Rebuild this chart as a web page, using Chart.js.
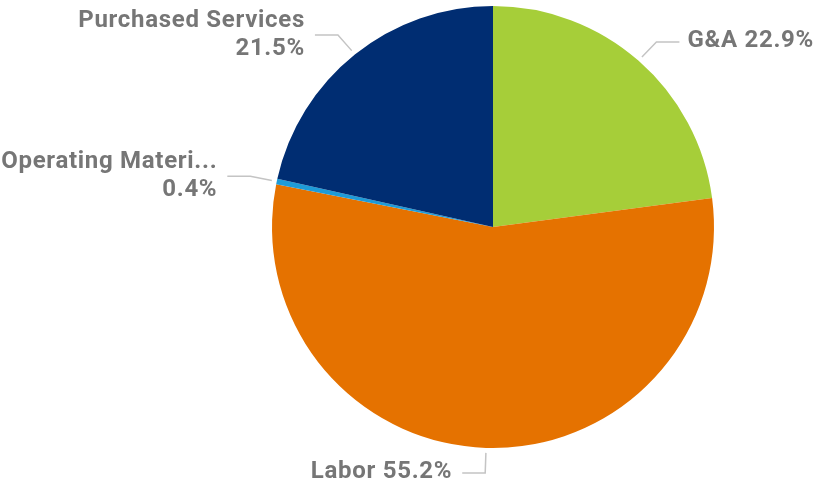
<!DOCTYPE html>
<html>
<head>
<meta charset="utf-8">
<script src="https://cdn.jsdelivr.net/npm/chart.js@4.4.1/dist/chart.umd.min.js"></script>
<style>
  html, body { margin: 0; padding: 0; background: #fff; }
  #wrap { width: 818px; height: 489px; position: relative; }
</style>
</head>
<body>
<div id="wrap"><canvas id="costChart"></canvas></div>
<script>
const categories = ["G&A", "Labor", "Operating Materi...", "Purchased Services"];
const shares = [22.9, 55.2, 0.4, 21.5];
const sliceColors = ["#a6ce39", "#e57200", "#1e9bd7", "#002d72"];
// two-line labels put the percent on its own line
const splitLabel = [false, false, true, true];

const labelFont = "700 24px Roboto";
const labelColor = "#767676";
const leaderColor = "#c4c4c4";

const leaderLabels = {
    id: "leaderLabels",
    afterDatasetsDraw(chart) {
        const ctx = chart.ctx;
        const arcs = chart.getDatasetMeta(0).data;
        ctx.save();
        ctx.font = labelFont;
        ctx.letterSpacing = "0.7px";
        ctx.textBaseline = "middle";
        arcs.forEach((arc, i) => {
            const { x, y, startAngle, endAngle, outerRadius } = arc.getProps(["x", "y", "startAngle", "endAngle", "outerRadius"], true);
            const mid = (startAngle + endAngle) / 2;
            const cos = Math.cos(mid), sin = Math.sin(mid);
            const sx = x + cos * (outerRadius + 5), sy = y + sin * (outerRadius + 5);
            const ex = x + cos * (outerRadius + 27), ey = y + sin * (outerRadius + 25);
            const right = cos >= 0;
            const hx = ex + (right ? 23 : -23);

            ctx.strokeStyle = leaderColor;
            ctx.lineWidth = 1.5;
            ctx.beginPath();
            ctx.moveTo(sx, sy);
            ctx.lineTo(ex, ey);
            ctx.lineTo(hx, ey);
            ctx.stroke();

            ctx.fillStyle = labelColor;
            ctx.textAlign = right ? "left" : "right";
            const tx = hx + (right ? 8 : -10);
            const pct = shares[i].toFixed(1) + "%";
            if (splitLabel[i]) {
                ctx.fillText(categories[i], tx, ey - 14);
                ctx.fillText(pct, tx, ey + 14);
            } else {
                ctx.fillText(categories[i] + " " + pct, tx, ey - 1);
            }
        });
        ctx.restore();
    }
};

new Chart(document.getElementById("costChart"), {
    type: "pie",
    data: {
        labels: categories,
        datasets: [{
            data: shares,
            backgroundColor: sliceColors,
            borderWidth: 0
        }]
    },
    options: {
        responsive: true,
        maintainAspectRatio: false,
        animation: false,
        layout: { padding: { left: 272, right: 104, top: 6, bottom: 41 } },
        plugins: {
            legend: { display: false },
            tooltip: { enabled: false }
        }
    },
    plugins: [leaderLabels]
});
</script>
</body>
</html>
